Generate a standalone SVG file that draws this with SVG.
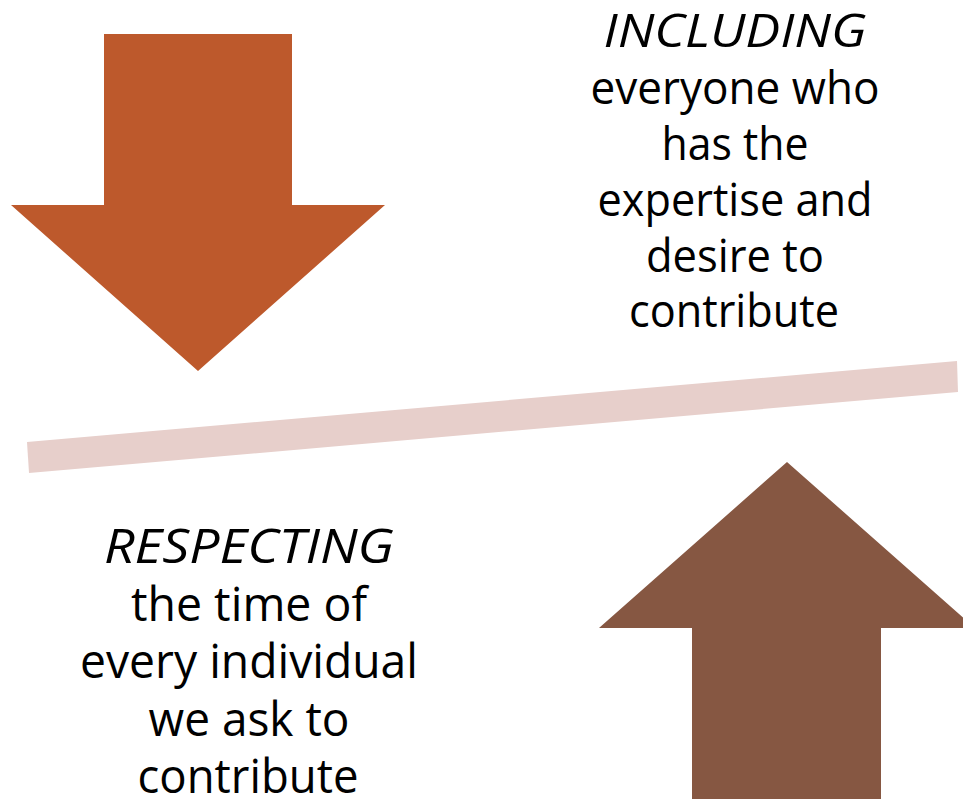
<svg xmlns="http://www.w3.org/2000/svg" width="963" height="802" viewBox="0 0 963 802">
<style>
.t{font-family:"Open Sans","Liberation Sans",sans-serif;font-size:46px;fill:#000;text-anchor:middle}
.b{font-size:47px}
.i{font-style:italic}
</style>
<rect width="963" height="802" fill="#fff"/>
<g id="down-arrow">
<polygon points="104,34 292,34 292,205 385,205 198,371 11,205 104,205" fill="#BD592C"/>
</g>
<g id="up-arrow">
<polygon points="787,462 975,628 881,628 881,799 692,799 692,628 599,628" fill="#865742"/>
</g>
<g id="connectors">
<polygon points="27,442 957,361 958,392 29,473" fill="#E7CFCB"/>
</g>
<g id="including-text">
<text class="t i" x="735" y="47" textLength="263" lengthAdjust="spacingAndGlyphs">INCLUDING</text>
<text class="t" x="735" y="104" textLength="289" lengthAdjust="spacingAndGlyphs">everyone who</text>
<text class="t" x="735" y="160" textLength="147" lengthAdjust="spacingAndGlyphs">has the</text>
<text class="t" x="735" y="216" textLength="275" lengthAdjust="spacingAndGlyphs">expertise and</text>
<text class="t" x="735" y="272" textLength="178" lengthAdjust="spacingAndGlyphs">desire to</text>
<text class="t" x="734" y="327" textLength="210" lengthAdjust="spacingAndGlyphs">contribute</text>
</g>
<g id="respecting-text">
<text class="t b i" x="249" y="563" textLength="290" lengthAdjust="spacingAndGlyphs">RESPECTING</text>
<text class="t b" x="249" y="621" textLength="236" lengthAdjust="spacingAndGlyphs">the time of</text>
<text class="t b" x="249" y="678" textLength="338" lengthAdjust="spacingAndGlyphs">every individual</text>
<text class="t b" x="249" y="736" textLength="201" lengthAdjust="spacingAndGlyphs">we ask to</text>
<text class="t b" x="248" y="793" textLength="221" lengthAdjust="spacingAndGlyphs">contribute</text>
</g>
</svg>
